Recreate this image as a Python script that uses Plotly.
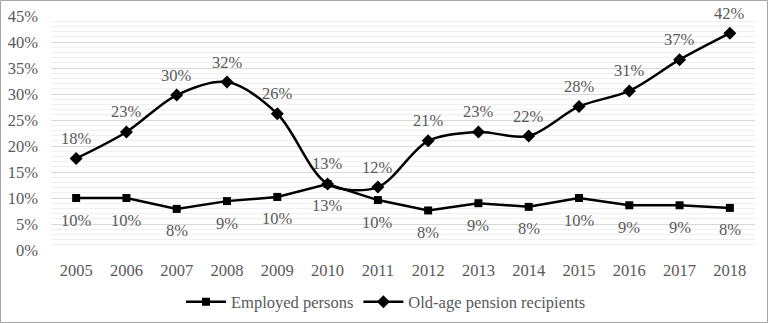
import plotly.graph_objects as go

years = ["2005", "2006", "2007", "2008", "2009", "2010", "2011", "2012", "2013", "2014", "2015", "2016", "2017", "2018"]
employed = [0.100, 0.100, 0.079, 0.094, 0.102, 0.127, 0.096, 0.076, 0.090, 0.083, 0.100, 0.086, 0.086, 0.081]
pension = [0.176, 0.227, 0.298, 0.323, 0.262, 0.127, 0.121, 0.210, 0.227, 0.219, 0.276, 0.306, 0.366, 0.417]

FONT = "Liberation Serif, Times New Roman, serif"
GRAY = "#595959"
FS = 16.5

fig = go.Figure()
fig.add_trace(go.Scatter(
    x=years, y=employed, name="Employed persons", mode="lines+markers",
    line=dict(color="black", width=2.5),
    marker=dict(symbol="square", size=8, color="black"),
    cliponaxis=False,
))
fig.add_trace(go.Scatter(
    x=years, y=pension, name="Old-age pension recipients", mode="lines+markers",
    line=dict(color="black", width=2.5, shape="spline", smoothing=0.9),
    marker=dict(symbol="diamond", size=10, color="black"),
    cliponaxis=False,
))

for i, v in enumerate(employed):
    fig.add_annotation(x=i, y=v, xref="x", yref="y", text=f"{round(v*100):d}%", showarrow=False,
                       yshift=-22, font=dict(family=FONT, size=FS, color=GRAY))
for i, v in enumerate(pension):
    fig.add_annotation(x=i, y=v, xref="x", yref="y", text=f"{round(v*100):d}%", showarrow=False,
                       yshift=20, font=dict(family=FONT, size=FS, color=GRAY))

L, R, T, B = 51, 13, 16, 73
W, H = 768, 323
pw, ph = W - L - R, H - T - B

fig.update_layout(
    width=W, height=H, margin=dict(l=L, r=R, t=T, b=B, autoexpand=False),
    paper_bgcolor="white", plot_bgcolor="white",
    font=dict(family=FONT, size=FS, color=GRAY),
    showlegend=True,
    legend=dict(orientation="h", x=(386 - L) / pw, xanchor="center", y=(250 - 302) / ph, yanchor="middle",
                font=dict(family=FONT, size=FS, color=GRAY), itemwidth=40, traceorder="normal"),
    xaxis=dict(type="category", range=[-0.5, 13.5], showgrid=False, showline=False, zeroline=False,
               tickfont=dict(family=FONT, size=FS, color=GRAY), ticklabelstandoff=8),
    yaxis=dict(range=[0, 0.45], dtick=0.05, tickformat=".0%", showgrid=True, gridcolor="#d9d9d9",
               gridwidth=1, zeroline=False, showline=False,
               minor=dict(dtick=0.01, showgrid=True, gridcolor="#f0f0f0", gridwidth=1),
               tickfont=dict(family=FONT, size=FS, color=GRAY), ticklabelstandoff=12),
)

fig.add_shape(type="rect", xref="paper", yref="paper",
              x0=(0.5 - L) / pw, x1=(W - 0.5 - L) / pw,
              y0=(T + ph - (H - 0.5)) / ph, y1=(T + ph - 0.5) / ph,
              line=dict(color="#a6a6a6", width=1), fillcolor="rgba(0,0,0,0)", layer="above")

fig.write_html("out.html")
